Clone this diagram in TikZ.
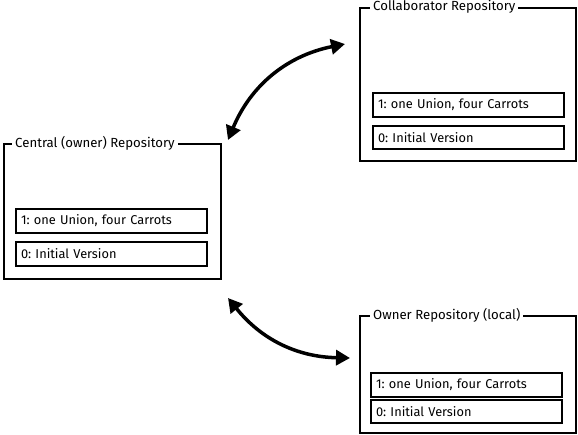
\documentclass[tikz,border=0pt]{standalone}
\usepackage{fontspec}
\setmainfont{Fira Sans}
\usetikzlibrary{arrows.meta,positioning}
\frenchspacing
\tikzset{>/.tip={Triangle[length=14pt,width=15pt]}}
\tikzset{repo/.style={draw,line width=2pt,anchor=north west,inner sep=0pt}}
\tikzset{repotitle/.style={fill=white,anchor=west,inner xsep=3pt,inner ysep=1pt,font=\fontsize{13.2}{15}\selectfont}}
\tikzset{commit/.style={draw,line width=2pt,anchor=north west,text width=181pt,inner xsep=5pt,minimum height=24pt,font=\fontsize{12.8}{14}\selectfont}}
\tikzset{link/.style={<->,line width=3.5pt}}

\begin{document}
\begin{tikzpicture}[x=1pt,y=-1pt]
        \useasboundingbox (0,0) rectangle (578,435);
        % repositories
        \node(central)[repo,minimum width=217pt,minimum height=135pt] at (3,143) {};
        \node(collab)[repo,minimum width=216pt,minimum height=153pt] at (359,7) {};
        \node(owner)[repo,minimum width=216pt,minimum height=117pt] at (359,315) {};
        \node(centraltitle)[repotitle] at ([xshift=9pt]central.north west) {Central (owner) Repository};
        \node(collabtitle)[repotitle] at ([xshift=11pt]collab.north west) {Collaborator Repository};
        \node(ownertitle)[repotitle] at ([xshift=11pt]owner.north west) {Owner Repository (local)};
        % commits
        \node(central1)[commit] at (15,208) {1: one Union, four Carrots};
        \node(central0)[commit] at (15,241) {0: Initial Version};
        \node(collab1)[commit] at (372,92) {1: one Union, four Carrots};
        \node(collab0)[commit,minimum height=23pt] at (372,125) {0: Initial Version};
        \node(owner1)[commit] at (370,372) {1: one Union, four Carrots};
        \node(owner0)[commit,minimum height=23pt] at (370,399) {0: Initial Version};
        % links
        \coordinate(c1) at ([xshift=6pt,yshift=3pt]central.north east);
        \coordinate(c2) at ([xshift=-14pt,yshift=-37pt]collab.north west);
        \coordinate(c3) at ([xshift=6pt,yshift=-18pt]central.south east);
        \coordinate(c4) at ([xshift=-9pt,yshift=-43pt]owner.north west);
        \draw[link] (c1) to[bend left=28] (c2);
        \draw[link] (c3) to[bend right=25] (c4);
\end{tikzpicture}
\end{document}
